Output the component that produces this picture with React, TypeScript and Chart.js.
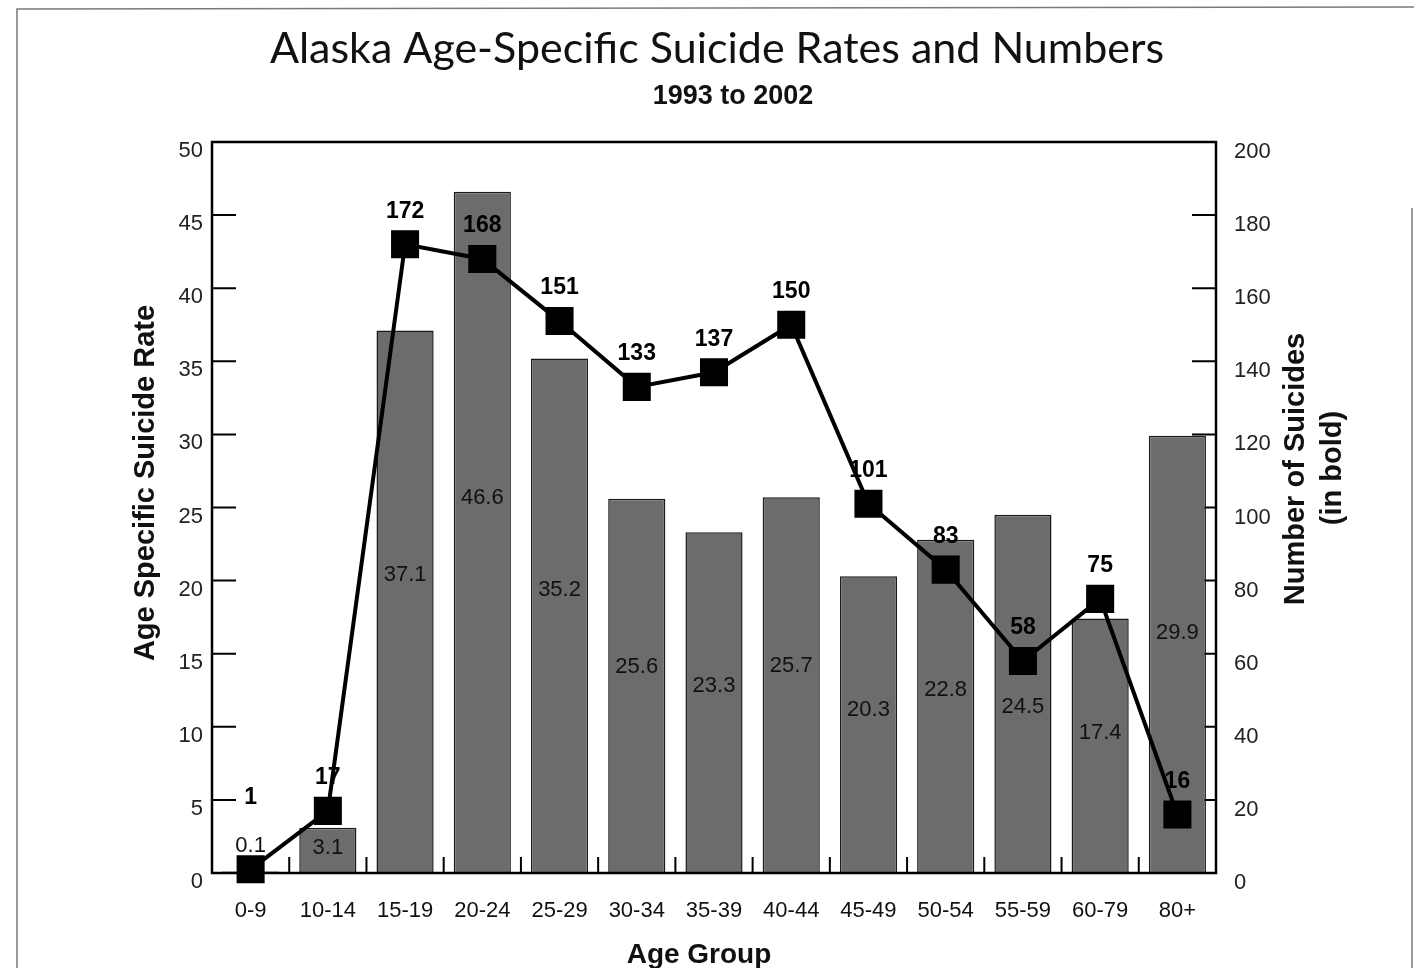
import React, { useEffect, useRef } from "react";
import { Chart, registerables } from "chart.js";

Chart.register(...registerables);

const categories = ["0-9", "10-14", "15-19", "20-24", "25-29", "30-34", "35-39", "40-44", "45-49", "50-54", "55-59", "60-79", "80+"];
const rates = [0.1, 3.1, 37.1, 46.6, 35.2, 25.6, 23.3, 25.7, 20.3, 22.8, 24.5, 17.4, 29.9];
const counts = [1, 17, 172, 168, 151, 133, 137, 150, 101, 83, 58, 75, 16];
const leftTicks = [0, 5, 10, 15, 20, 25, 30, 35, 40, 45, 50];
const rightTicks = [0, 20, 40, 60, 80, 100, 120, 140, 160, 180, 200];

const TITLE = "Alaska Age-Specific Suicide Rates and Numbers";
const SUBTITLE = "1993 to 2002";
const X_TITLE = "Age Group";
const Y_TITLE = "Age Specific Suicide Rate";
const Y1_TITLE = ["Number of Suicides", "(in bold)"];

const W = 1414;
const H = 968;
const PLOT_LEFT = 212;
const PLOT_RIGHT = 1216;
const PLOT_TOP = 142;
const PLOT_BOTTOM = 873;
const SANS = "'Liberation Sans', Arial, sans-serif";

const decorPlugin = {
  id: "decor",
  beforeDraw(chart: any) {
    const ctx = chart.ctx;
    ctx.save();
    ctx.fillStyle = "#ffffff";
    ctx.fillRect(0, 0, chart.width, chart.height);
    ctx.strokeStyle = "#7a7a7a";
    ctx.lineWidth = 1.5;
    ctx.beginPath();
    ctx.moveTo(17, H + 5);
    ctx.lineTo(17, 9);
    ctx.lineTo(W, 7);
    ctx.moveTo(1412, 208);
    ctx.lineTo(1412, H + 5);
    ctx.stroke();
    ctx.restore();
  },
  beforeDatasetsDraw(chart: any) {
    const ctx = chart.ctx;
    const area = chart.chartArea;
    const x = chart.scales.x;
    const y = chart.scales.y;
    const y1 = chart.scales.y1;
    ctx.save();
    ctx.strokeStyle = "#000";
    ctx.lineWidth = 2;
    ctx.beginPath();
    leftTicks.forEach((v) => {
      if (v === 0 || v === 50) return;
      const py = y.getPixelForValue(v);
      ctx.moveTo(area.left, py);
      ctx.lineTo(area.left + 24, py);
    });
    rightTicks.forEach((v) => {
      if (v === 0 || v === 200) return;
      const py = y1.getPixelForValue(v);
      ctx.moveTo(area.right - 24, py);
      ctx.lineTo(area.right, py);
    });
    for (let i = 1; i < categories.length; i++) {
      const px = (x.getPixelForValue(i - 1) + x.getPixelForValue(i)) / 2;
      ctx.moveTo(px, area.bottom - 16);
      ctx.lineTo(px, area.bottom);
    }
    ctx.stroke();
    ctx.restore();
  },
  afterDatasetsDraw(chart: any) {
    const ctx = chart.ctx;
    const area = chart.chartArea;
    const y = chart.scales.y;
    const y1 = chart.scales.y1;
    ctx.save();
    ctx.fillStyle = "#222";
    ctx.font = `22px ${SANS}`;
    ctx.textBaseline = "middle";
    ctx.textAlign = "right";
    leftTicks.forEach((v) => {
      ctx.fillText(String(v), area.left - 9, y.getPixelForValue(v) + 9);
    });
    ctx.textAlign = "left";
    rightTicks.forEach((v) => {
      ctx.fillText(String(v), area.right + 18, y1.getPixelForValue(v) + 10);
    });
    ctx.restore();
  },
  afterDraw(chart: any) {
    const ctx = chart.ctx;
    const area = chart.chartArea;
    const x = chart.scales.x;
    const y = chart.scales.y;
    const y1 = chart.scales.y1;
    ctx.save();

    ctx.strokeStyle = "#000";
    ctx.lineWidth = 2.5;
    ctx.strokeRect(area.left, area.top, area.right - area.left, area.bottom - area.top);

    ctx.fillStyle = "#111";
    ctx.textAlign = "center";
    ctx.textBaseline = "middle";

    ctx.font = `22px ${SANS}`;
    rates.forEach((v, i) => {
      const px = x.getPixelForValue(i);
      const barH = y.getPixelForValue(0) - y.getPixelForValue(v);
      let py: number;
      if (barH < 20) {
        py = y.getPixelForValue(v) - 26;
      } else {
        py = y.getPixelForValue(v * 0.55);
        const pointY = y1.getPixelForValue(counts[i]);
        if (Math.abs(py - pointY) < 28) py = pointY + 46;
      }
      ctx.fillText(String(v), px, py);
    });

    ctx.font = `bold 23px ${SANS}`;
    ctx.fillStyle = "#000";
    counts.forEach((v, i) => {
      const px = x.getPixelForValue(i);
      const off = i === 0 ? 72 : 33;
      ctx.fillText(String(v), px, y1.getPixelForValue(v) - off);
    });

    ctx.fillStyle = "#111";
    ctx.font = `43px Lato, 'Open Sans', sans-serif`;
    ctx.fillText(TITLE, 717, 49);
    ctx.font = `bold 27px ${SANS}`;
    ctx.fillText(SUBTITLE, 733, 97);

    ctx.font = `bold 28px ${SANS}`;
    ctx.fillText(X_TITLE, 699, 955);

    ctx.font = `bold 29px ${SANS}`;
    ctx.save();
    ctx.translate(146, 483);
    ctx.rotate(-Math.PI / 2);
    ctx.fillText(Y_TITLE, 0, 0);
    ctx.restore();

    ctx.save();
    ctx.translate(1296, 469);
    ctx.rotate(-Math.PI / 2);
    ctx.fillText(Y1_TITLE[0], 0, 0);
    ctx.restore();
    ctx.save();
    ctx.translate(1333, 468);
    ctx.rotate(-Math.PI / 2);
    ctx.fillText(Y1_TITLE[1], 0, 0);
    ctx.restore();

    ctx.restore();
  },
};

export default function App() {
  const ref = useRef<HTMLCanvasElement | null>(null);

  useEffect(() => {
    document.body.style.margin = "0";
    document.body.style.overflow = "hidden";
    if (!ref.current) return;
    const chart = new Chart(ref.current, {
      type: "bar",
      data: {
        labels: categories,
        datasets: [
          {
            type: "line",
            label: "Number of Suicides",
            data: counts,
            yAxisID: "y1",
            borderColor: "#000",
            borderWidth: 4,
            backgroundColor: "#000",
            pointStyle: "rect",
            pointRadius: 17,
            pointHoverRadius: 17,
            pointBackgroundColor: "#000",
            pointBorderColor: "#000",
            tension: 0,
            clip: false,
            order: 0,
          } as any,
          {
            type: "bar",
            label: "Age Specific Suicide Rate",
            data: rates,
            yAxisID: "y",
            backgroundColor: "#6c6c6c",
            borderColor: "#1a1a1a",
            borderWidth: 1.5,
            barPercentage: 0.74,
            categoryPercentage: 1,
            order: 1,
          } as any,
        ],
      },
      options: {
        animation: false,
        responsive: false,
        maintainAspectRatio: false,
        devicePixelRatio: 1,
        layout: { padding: { top: PLOT_TOP, left: 0, right: 0, bottom: 0 } },
        plugins: {
          legend: { display: false },
          title: { display: false },
          tooltip: { enabled: false },
        },
        scales: {
          x: {
            type: "category",
            offset: true,
            grid: { display: false, drawTicks: false },
            border: { display: false },
            ticks: {
              color: "#111",
              font: { family: SANS, size: 22 },
              padding: 25,
              maxRotation: 0,
              autoSkip: false,
            },
            afterFit: (s: any) => {
              s.height = H - PLOT_BOTTOM;
            },
          },
          y: {
            type: "linear",
            position: "left",
            min: 0,
            max: 50,
            afterBuildTicks: (s: any) => {
              s.ticks = leftTicks.map((v) => ({ value: v }));
            },
            grid: { display: false, drawTicks: false },
            border: { display: false },
            ticks: { display: false },
            afterFit: (s: any) => {
              s.width = PLOT_LEFT;
            },
          },
          y1: {
            type: "linear",
            position: "right",
            min: 0,
            max: 200,
            afterBuildTicks: (s: any) => {
              s.ticks = rightTicks.map((v) => ({ value: v }));
            },
            grid: { display: false, drawTicks: false },
            border: { display: false },
            ticks: { display: false },
            afterFit: (s: any) => {
              s.width = W - PLOT_RIGHT;
            },
          },
        },
      },
      plugins: [decorPlugin],
    });
    return () => chart.destroy();
  }, []);

  return (
    <div style={{ width: W, height: H, position: "relative", background: "#fff" }}>
      <canvas ref={ref} width={W} height={H} style={{ width: W, height: H, display: "block" }} />
    </div>
  );
}
